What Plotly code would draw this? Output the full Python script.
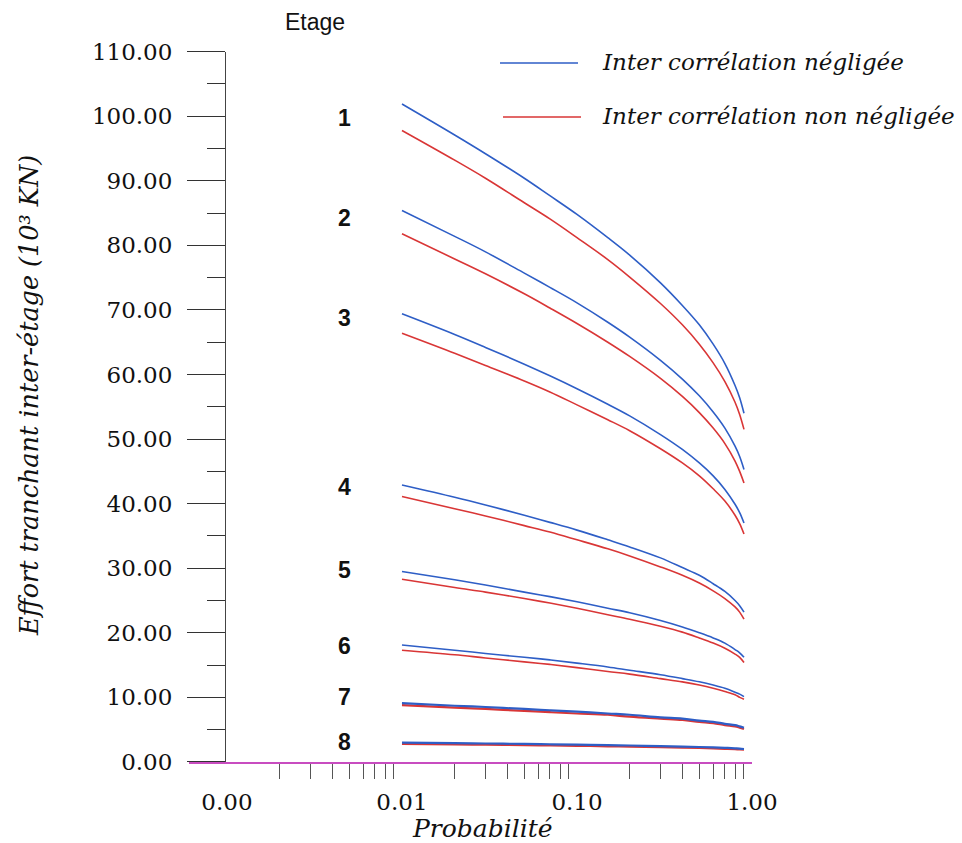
import plotly.graph_objects as go

# Probability of exceedance (x) and storey shear (10^3 kN) for each floor
prob = [0.01, 0.02, 0.03, 0.05, 0.07, 0.1, 0.15, 0.2, 0.3, 0.4, 0.5, 0.6, 0.7, 0.8, 0.85, 0.9]

# Inter-correlation neglected (blue)
neg_1 = [101.9, 97.1, 94.2, 90.4, 87.7, 84.8, 81.2, 78.5, 74.2, 70.7, 67.7, 64.7, 61.7, 58.3, 56.4, 54.0]
neg_2 = [85.4, 81.4, 79.0, 75.7, 73.5, 71.1, 68.1, 65.8, 62.2, 59.3, 56.7, 54.2, 51.7, 48.9, 47.3, 45.3]
neg_3 = [69.4, 66.2, 64.2, 61.6, 59.8, 57.8, 55.4, 53.6, 50.7, 48.4, 46.3, 44.3, 42.2, 39.9, 38.6, 37.0]
neg_4 = [42.9, 41.0, 39.8, 38.2, 37.1, 35.9, 34.4, 33.3, 31.6, 30.1, 28.9, 27.6, 26.4, 25.0, 24.2, 23.2]
neg_5 = [29.5, 28.2, 27.4, 26.3, 25.6, 24.8, 23.8, 23.1, 21.9, 20.9, 20.0, 19.2, 18.4, 17.4, 16.9, 16.2]
neg_6 = [18.1, 17.3, 16.8, 16.2, 15.8, 15.3, 14.7, 14.2, 13.5, 12.9, 12.4, 11.9, 11.4, 10.8, 10.5, 10.1]
neg_7 = [9.1, 8.7, 8.5, 8.2, 8.0, 7.8, 7.5, 7.3, 6.9, 6.7, 6.4, 6.2, 5.9, 5.7, 5.5, 5.3]
neg_8 = [3.0, 2.91, 2.85, 2.78, 2.73, 2.67, 2.60, 2.54, 2.45, 2.38, 2.31, 2.25, 2.18, 2.10, 2.06, 2.0]

# Inter-correlation not neglected (red)
nonneg_1 = [97.8, 93.2, 90.4, 86.6, 84.1, 81.2, 77.8, 75.1, 71.0, 67.7, 64.7, 61.8, 58.9, 55.7, 53.8, 51.5]
nonneg_2 = [81.8, 77.9, 75.6, 72.5, 70.3, 67.9, 65.0, 62.8, 59.4, 56.6, 54.1, 51.7, 49.3, 46.6, 45.0, 43.2]
nonneg_3 = [66.4, 63.3, 61.4, 59.0, 57.3, 55.3, 53.0, 51.3, 48.5, 46.3, 44.3, 42.3, 40.4, 38.2, 36.9, 35.3]
nonneg_4 = [41.1, 39.2, 38.1, 36.6, 35.6, 34.4, 33.0, 31.9, 30.2, 28.9, 27.7, 26.5, 25.3, 24.0, 23.2, 22.1]
nonneg_5 = [28.3, 27.0, 26.3, 25.3, 24.6, 23.8, 22.8, 22.1, 21.0, 20.1, 19.2, 18.4, 17.6, 16.7, 16.2, 15.4]
nonneg_6 = [17.3, 16.6, 16.1, 15.5, 15.1, 14.6, 14.0, 13.6, 12.9, 12.4, 11.9, 11.4, 10.9, 10.4, 10.0, 9.7]
nonneg_7 = [8.8, 8.4, 8.2, 7.9, 7.7, 7.5, 7.3, 7.0, 6.7, 6.5, 6.2, 6.0, 5.7, 5.5, 5.3, 5.1]
nonneg_8 = [2.8, 2.72, 2.66, 2.59, 2.55, 2.49, 2.42, 2.37, 2.29, 2.22, 2.16, 2.10, 2.03, 1.96, 1.92, 1.9]

neglected = [neg_1, neg_2, neg_3, neg_4, neg_5, neg_6, neg_7, neg_8]
not_neglected = [nonneg_1, nonneg_2, nonneg_3, nonneg_4, nonneg_5, nonneg_6, nonneg_7, nonneg_8]

# Floor labels and where they sit on the value axis
floor_names = ["1", "2", "3", "4", "5", "6", "7", "8"]
floor_label_y = [99.8, 84.3, 68.8, 42.6, 29.7, 18.0, 10.0, 3.1]

x_tick_vals = [0.001, 0.01, 0.1, 1.0]
x_tick_text = ["0.00", "0.01", "0.10", "1.00"]
x_minor_vals = [m * d for d in (0.001, 0.01, 0.1) for m in range(2, 10)]

legend_names = ["Inter corrélation négligée", "Inter corrélation non négligée"]
x_title = "Probabilité"
y_title = "Effort tranchant inter-étage (10³ KN)"

BLUE = "#2e5ec6"
RED = "#d93636"
W, H = 962, 843
SERIF = "DejaVu Serif"
SANS = "Liberation Sans"

fig = go.Figure()

for i, ys in enumerate(not_neglected):
    fig.add_trace(go.Scatter(x=prob, y=ys, mode="lines", line_shape="spline",
                             line=dict(color=RED, width=2.2 if i >= 6 else 1.6),
                             showlegend=False, hoverinfo="skip"))
for i, ys in enumerate(neglected):
    fig.add_trace(go.Scatter(x=prob, y=ys, mode="lines", line_shape="spline",
                             line=dict(color=BLUE, width=2.2 if i >= 6 else 1.6),
                             showlegend=False, hoverinfo="skip"))

x_left = -3.217  # log10 of the left end of the abscissa line
y0_px, ytop_px = 761.9, 51.7

fig.update_layout(
    width=W, height=H,
    margin=dict(l=0, r=0, t=0, b=0, autoexpand=False),
    paper_bgcolor="white", plot_bgcolor="white",
    showlegend=False,
    xaxis=dict(
        type="log", range=[x_left, 0.0], domain=[189 / W, 752 / W],
        automargin=False,
        showgrid=False, zeroline=False,
        showline=True, linecolor="#c84cc0", linewidth=2,
        tickmode="array", tickvals=x_tick_vals, ticktext=x_tick_text,
        ticks="outside", ticklen=18, tickcolor="rgba(0,0,0,0)",
        tickfont=dict(family=SERIF, size=23, color="#111"),
        minor=dict(tickmode="array", tickvals=x_minor_vals, ticks="outside",
                   ticklen=15, tickwidth=1, tickcolor="#555", showgrid=False),
    ),
    yaxis=dict(
        range=[0, 110], domain=[(H - y0_px) / H, (H - ytop_px) / H],
        anchor="free", position=225 / W, automargin=False,
        showgrid=False, zeroline=False,
        showline=True, linecolor="#444", linewidth=1,
        tickmode="linear", tick0=0, dtick=10, tickformat=".2f",
        ticks="outside", ticklen=38, tickwidth=1.3, tickcolor="#333",
        ticklabelstandoff=10,
        tickfont=dict(family=SERIF, size=23, color="#111"),
        minor=dict(tickmode="linear", tick0=0, dtick=5, ticks="outside",
                   ticklen=18, tickwidth=1.3, tickcolor="#333", showgrid=False),
    ),
)

# Axis titles
fig.add_annotation(x=482 / W, y=1 - 828 / H, xref="paper", yref="paper",
                   xanchor="center", yanchor="middle", text=f"<i>{x_title}</i>",
                   showarrow=False, font=dict(family=SERIF, size=25, color="#111"))
fig.add_annotation(x=29 / W, y=1 - 396 / H, xref="paper", yref="paper",
                   xanchor="center", yanchor="middle", textangle=-90, text=f"<i>{y_title}</i>",
                   showarrow=False, font=dict(family=SERIF, size=25.5, color="#111"))

# Floor numbers next to each pair of curves
label_x = -2.33
for name, yv in zip(floor_names, floor_label_y):
    fig.add_annotation(x=label_x, y=yv, xref="x", yref="y", text=f"<b>{name}</b>",
                       xanchor="center", yanchor="middle",
                       showarrow=False, font=dict(family=SANS, size=23, color="#111"))

fig.add_annotation(x=315 / W, y=1 - 22 / H, xref="paper", yref="paper", text="Etage",
                   xanchor="center", yanchor="middle",
                   showarrow=False, font=dict(family=SANS, size=23, color="#111"))

# Hand-drawn legend: line sample + italic label
for (yy, color, name, xs) in [(63, BLUE, legend_names[0], 500), (117, RED, legend_names[1], 503)]:
    fig.add_shape(type="line", xref="paper", yref="paper",
                  x0=xs / W, x1=(xs + 78) / W, y0=1 - yy / H, y1=1 - yy / H,
                  line=dict(color=color, width=1.6))
    fig.add_annotation(x=600 / W, y=1 - (yy - 1) / H, xref="paper", yref="paper",
                       xanchor="left", yanchor="middle", text=f"<i>{name}</i>",
                       showarrow=False, font=dict(family=SERIF, size=23, color="#111"))

fig.write_html("out.html")
